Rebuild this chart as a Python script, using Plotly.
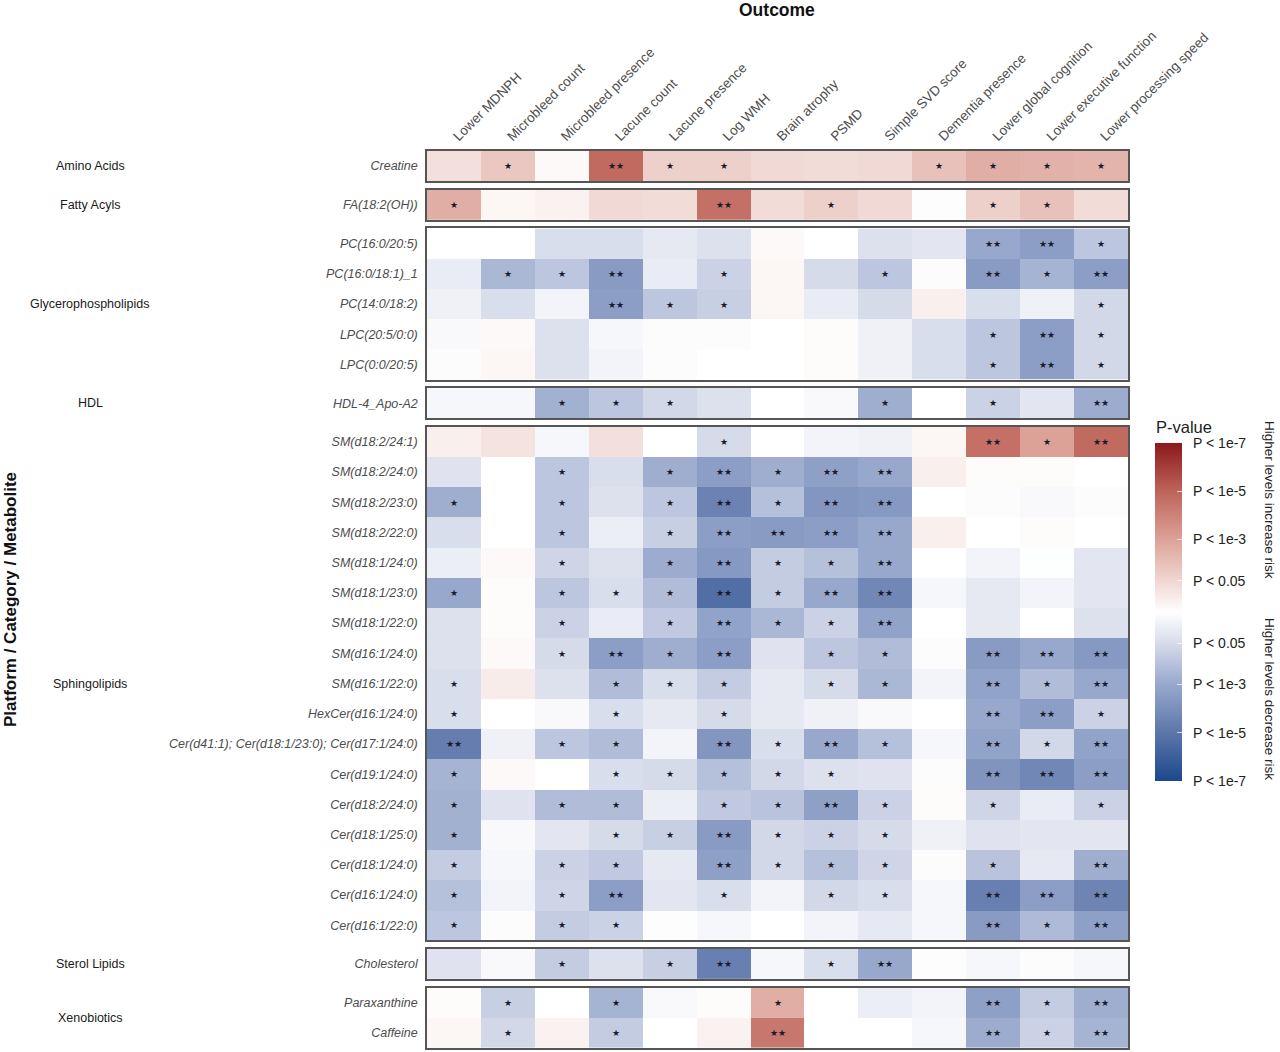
import plotly.graph_objects as go
from plotly.subplots import make_subplots

outcomes = ["Lower MDNPH", "Microbleed count", "Microbleed presence", "Lacune count",
            "Lacune presence", "Log WMH", "Brain atrophy", "PSMD", "Simple SVD score",
            "Dementia presence", "Lower global cognition", "Lower executive function",
            "Lower processing speed"]

categories = ["Amino Acids", "Fatty Acyls", "Glycerophospholipids", "HDL",
              "Sphingolipids", "Sterol Lipids", "Xenobiotics"]

amino_names = ["Creatine"]
amino_vals = [[1.0, 1.8, 0.2, 4.8, 1.5, 1.5, 1.2, 1.1, 1.2, 2.0, 2.6, 2.5, 2.4]]
amino_stars = [["", "*", "", "**", "*", "*", "", "", "", "*", "*", "*", "*"]]

fatty_names = ["FA(18:2(OH))"]
fatty_vals = [[2.6, 0.3, 0.4, 1.2, 1.1, 4.6, 1.1, 1.5, 1.2, 0.05, 1.5, 2.0, 1.1]]
fatty_stars = [["*", "", "", "", "", "**", "", "*", "", "", "*", "*", ""]]

glyco_names = ["PC(16:0/20:5)", "PC(16:0/18:1)_1", "PC(14:0/18:2)", "LPC(20:5/0:0)", "LPC(0:0/20:5)"]
glyco_vals = [
    [0.0, 0.0, -1.2, -1.2, -0.8, -1.1, 0.2, 0.0, -1.1, -0.9, -3.0, -3.4, -2.0],
    [-0.7, -2.5, -2.0, -3.5, -0.7, -1.6, 0.3, -1.3, -2.0, -0.1, -3.5, -2.6, -3.4],
    [-0.5, -1.2, -0.4, -3.4, -2.0, -1.7, 0.3, -0.7, -1.3, 0.5, -1.2, -0.5, -1.4],
    [-0.2, 0.2, -1.1, -0.3, -0.1, -0.1, 0.0, 0.1, -0.5, -1.2, -2.0, -3.4, -1.4],
    [-0.1, 0.3, -1.1, -0.4, -0.1, 0.0, 0.0, 0.1, -0.5, -1.2, -2.0, -3.4, -1.4],
]
glyco_stars = [
    ["", "", "", "", "", "", "", "", "", "", "**", "**", "*"],
    ["", "*", "*", "**", "", "*", "", "", "*", "", "**", "*", "**"],
    ["", "", "", "**", "*", "*", "", "", "", "", "", "", "*"],
    ["", "", "", "", "", "", "", "", "", "", "*", "**", "*"],
    ["", "", "", "", "", "", "", "", "", "", "*", "**", "*"],
]

hdl_names = ["HDL-4_Apo-A2"]
hdl_vals = [[-0.3, -0.3, -2.7, -2.0, -1.4, -1.1, 0.0, -0.2, -2.8, 0.0, -1.6, -0.9, -2.9]]
hdl_stars = [["", "", "*", "*", "*", "", "", "", "*", "", "*", "", "**"]]

sphingo_names = ["SM(d18:2/24:1)", "SM(d18:2/24:0)", "SM(d18:2/23:0)", "SM(d18:2/22:0)",
                 "SM(d18:1/24:0)", "SM(d18:1/23:0)", "SM(d18:1/22:0)", "SM(d16:1/24:0)",
                 "SM(d16:1/22:0)", "HexCer(d16:1/24:0)",
                 "Cer(d41:1); Cer(d18:1/23:0); Cer(d17:1/24:0)", "Cer(d19:1/24:0)",
                 "Cer(d18:2/24:0)", "Cer(d18:1/25:0)", "Cer(d18:1/24:0)",
                 "Cer(d16:1/24:0)", "Cer(d16:1/22:0)"]
sphingo_vals = [
    [0.5, 0.9, -0.3, 1.0, 0.0, -1.3, 0.0, -0.4, -0.5, 0.3, 4.6, 3.0, 4.8],
    [-1.0, 0.0, -2.0, -1.2, -2.8, -3.4, -2.8, -3.3, -3.0, 0.5, 0.1, 0.1, 0.0],
    [-2.8, 0.0, -2.0, -1.1, -2.0, -4.5, -2.2, -3.7, -3.6, 0.0, -0.1, -0.2, -0.1],
    [-1.2, 0.0, -2.0, -0.6, -1.7, -3.4, -3.5, -3.4, -3.0, 0.5, 0.0, 0.1, 0.0],
    [-0.6, 0.2, -1.5, -1.1, -2.9, -3.6, -1.8, -2.2, -3.0, 0.0, -0.4, -0.05, -0.9],
    [-3.0, 0.1, -2.0, -1.2, -2.3, -5.3, -1.8, -3.0, -4.3, -0.3, -0.8, -0.4, -0.9],
    [-1.1, 0.1, -1.6, -0.7, -1.9, -3.2, -2.5, -1.6, -3.2, 0.0, -0.8, 0.0, -1.1],
    [-1.1, 0.2, -1.3, -3.4, -2.8, -3.4, -1.0, -2.0, -2.3, -0.1, -3.5, -3.0, -3.6],
    [-1.2, 0.6, -1.1, -2.3, -1.2, -1.8, -0.8, -1.3, -2.5, -0.4, -3.2, -2.3, -3.0],
    [-1.2, 0.0, -0.2, -1.2, -0.8, -1.3, -0.8, -0.5, -0.2, 0.0, -3.0, -3.4, -1.6],
    [-4.7, -0.5, -2.0, -2.3, -0.4, -3.7, -1.2, -3.0, -2.2, -0.3, -3.2, -1.4, -3.2],
    [-2.6, 0.2, 0.0, -1.2, -1.3, -2.2, -1.4, -1.1, -1.0, -0.1, -3.8, -4.3, -3.4],
    [-2.7, -1.0, -2.3, -2.3, -0.6, -1.9, -2.1, -3.3, -1.6, 0.1, -1.5, -0.7, -1.6],
    [-2.7, -0.2, -0.9, -1.3, -1.7, -3.5, -1.4, -1.6, -1.3, -0.5, -1.0, -0.9, -0.9],
    [-1.8, -0.3, -1.6, -1.9, -0.8, -3.3, -1.4, -2.2, -1.5, -0.1, -2.1, -0.8, -2.8],
    [-2.2, -0.4, -1.5, -3.4, -0.9, -1.2, -0.4, -1.4, -1.2, -0.3, -4.6, -3.4, -4.4],
    [-2.0, -0.1, -1.8, -1.6, 0.05, -0.3, 0.0, -0.4, -0.8, -0.3, -3.5, -2.4, -3.3],
]
sphingo_stars = [
    ["", "", "", "", "", "*", "", "", "", "", "**", "*", "**"],
    ["", "", "*", "", "*", "**", "*", "**", "**", "", "", "", ""],
    ["*", "", "*", "", "*", "**", "*", "**", "**", "", "", "", ""],
    ["", "", "*", "", "*", "**", "**", "**", "**", "", "", "", ""],
    ["", "", "*", "", "*", "**", "*", "*", "**", "", "", "", ""],
    ["*", "", "*", "*", "*", "**", "*", "**", "**", "", "", "", ""],
    ["", "", "*", "", "*", "**", "*", "*", "**", "", "", "", ""],
    ["", "", "*", "**", "*", "**", "", "*", "*", "", "**", "**", "**"],
    ["*", "", "", "*", "*", "*", "", "*", "*", "", "**", "*", "**"],
    ["*", "", "", "*", "", "*", "", "", "", "", "**", "**", "*"],
    ["**", "", "*", "*", "", "**", "*", "**", "*", "", "**", "*", "**"],
    ["*", "", "", "*", "*", "*", "*", "*", "", "", "**", "**", "**"],
    ["*", "", "*", "*", "", "*", "*", "**", "*", "", "*", "", "*"],
    ["*", "", "", "*", "*", "**", "*", "*", "*", "", "", "", ""],
    ["*", "", "*", "*", "", "**", "*", "*", "*", "", "*", "", "**"],
    ["*", "", "*", "**", "", "*", "", "*", "*", "", "**", "**", "**"],
    ["*", "", "*", "*", "", "", "", "", "", "", "**", "*", "**"],
]

sterol_names = ["Cholesterol"]
sterol_vals = [[-1.0, -0.2, -1.8, -1.1, -1.7, -4.6, -0.3, -1.2, -3.0, 0.05, -0.3, -0.1, -0.3]]
sterol_stars = [["", "", "*", "", "*", "**", "", "*", "**", "", "", "", ""]]

xeno_names = ["Paraxanthine", "Caffeine"]
xeno_vals = [
    [0.1, -1.7, 0.0, -2.6, -0.2, 0.1, 2.6, 0.0, -0.6, -0.4, -3.3, -1.8, -2.8],
    [0.3, -1.4, 0.4, -1.8, 0.0, 0.4, 4.4, 0.0, 0.0, -0.3, -2.9, -1.6, -2.6],
]
xeno_stars = [
    ["", "*", "", "*", "", "", "*", "", "", "", "**", "*", "**"],
    ["", "*", "", "*", "", "", "**", "", "", "", "**", "*", "**"],
]

cbar_vals = [7, 5, 3, 1.3, -1.3, -3, -5, -7]
cbar_text = ["P < 1e-7", "P < 1e-5", "P < 1e-3", "P < 0.05",
             "P < 0.05", "P < 1e-3", "P < 1e-5", "P < 1e-7"]

groups = [
    (amino_names, amino_vals, amino_stars),
    (fatty_names, fatty_vals, fatty_stars),
    (glyco_names, glyco_vals, glyco_stars),
    (hdl_names, hdl_vals, hdl_stars),
    (sphingo_names, sphingo_vals, sphingo_stars),
    (sterol_names, sterol_vals, sterol_stars),
    (xeno_names, xeno_vals, xeno_stars),
]

colorscale = [
    [0.0, "rgb(28,72,140)"],
    [0.143, "rgb(92,118,170)"],
    [0.286, "rgb(152,168,204)"],
    [0.407, "rgb(214,219,234)"],
    [0.5, "rgb(255,255,255)"],
    [0.593, "rgb(240,214,209)"],
    [0.714, "rgb(220,162,152)"],
    [0.857, "rgb(190,100,90)"],
    [1.0, "rgb(140,24,28)"],
]

W, H = 1280, 1052
L, R, T, B = 427, 152, 151, 4
PW, PH = W - L - R, H - T - B


def px(x):
    return (x - L) / PW


def py(y):
    return 1 - (y - T) / PH


FONT = "Liberation Sans, Arial, sans-serif"
STAR = "\u2605"

heights = [len(g[0]) for g in groups]
fig = make_subplots(rows=len(groups), cols=1, row_heights=heights,
                    vertical_spacing=0.0095)

for i, (names, vals, stars) in enumerate(groups):
    star_text = [[s.replace("*", STAR) for s in row] for row in stars]
    fig.add_trace(go.Heatmap(
        z=vals, x=outcomes, y=names, text=star_text, texttemplate="%{text}",
        textfont=dict(size=9, color="#1a1a2a", family="DejaVu Sans"),
        coloraxis="coloraxis", xgap=0, ygap=0,
    ), row=i + 1, col=1)
    fig.update_yaxes(autorange="reversed", showgrid=False, zeroline=False,
                     showline=True, mirror=True, linecolor="#555555", linewidth=1.5,
                     ticks="", ticklabelstandoff=5, automargin=False,
                     tickfont=dict(size=12.5, color="#4d4d4d", family=FONT, style="italic"),
                     row=i + 1, col=1)
    fig.update_xaxes(showgrid=False, zeroline=False, showline=True, mirror=True,
                     linecolor="#555555", linewidth=1.5, ticks="", automargin=False,
                     showticklabels=(i == 0), row=i + 1, col=1)
    fig.add_annotation(text=categories[i], xref="paper", yref=f"y{i + 1 if i else ''} domain",
                       x=px(90), y=0.5, showarrow=False, xanchor="center", yanchor="middle",
                       font=dict(size=12.5, color="#1a1a1a", family=FONT))

fig.update_xaxes(side="top", tickangle=-45, ticklabelstandoff=0,
                 tickfont=dict(size=13.5, color="#4d4d4d", family=FONT), row=1, col=1)

pad = "\u00a0\u00a0"
fig.update_layout(
    width=W, height=H,
    margin=dict(l=L, r=R, t=T, b=B, autoexpand=False),
    paper_bgcolor="white", plot_bgcolor="white",
    font=dict(family=FONT),
    coloraxis=dict(
        colorscale=colorscale, cmin=-7, cmax=7,
        colorbar=dict(
            tickvals=cbar_vals, ticktext=[pad + t for t in cbar_text],
            lenmode="pixels", len=338, thickness=27,
            x=px(1155), xanchor="left", y=py(612), yanchor="middle",
            xpad=0, ypad=0, outlinewidth=0,
            ticks="inside", ticklen=5, tickcolor="rgba(255,255,255,0.7)",
            tickfont=dict(size=14, color="#222222", family=FONT),
        ),
    ),
)

fig.add_annotation(text="P-value", xref="paper", yref="paper", x=px(1154), y=py(427),
                   showarrow=False, xanchor="left", yanchor="middle",
                   font=dict(size=16.5, color="#222222", family=FONT))
fig.add_annotation(text="Higher levels increase risk", xref="paper", yref="paper",
                   x=px(1270), y=py(500), textangle=90, showarrow=False,
                   xanchor="center", yanchor="middle",
                   font=dict(size=13.5, color="#222222", family=FONT))
fig.add_annotation(text="Higher levels decrease risk", xref="paper", yref="paper",
                   x=px(1270), y=py(699), textangle=90, showarrow=False,
                   xanchor="center", yanchor="middle",
                   font=dict(size=13.5, color="#222222", family=FONT))
fig.add_annotation(text="<b>Platform / Category / Metabolite</b>", xref="paper", yref="paper",
                   x=px(10), y=py(600), textangle=-90, showarrow=False,
                   xanchor="center", yanchor="middle",
                   font=dict(size=17, color="#111111", family=FONT))
fig.add_annotation(text="<b>Outcome</b>", xref="paper", yref="paper",
                   x=px(777), y=py(10), showarrow=False,
                   xanchor="center", yanchor="middle",
                   font=dict(size=17.5, color="#111111", family=FONT))

fig.write_html("out.html", config={"displayModeBar": False},
               post_script="document.body.style.margin='0px';")
